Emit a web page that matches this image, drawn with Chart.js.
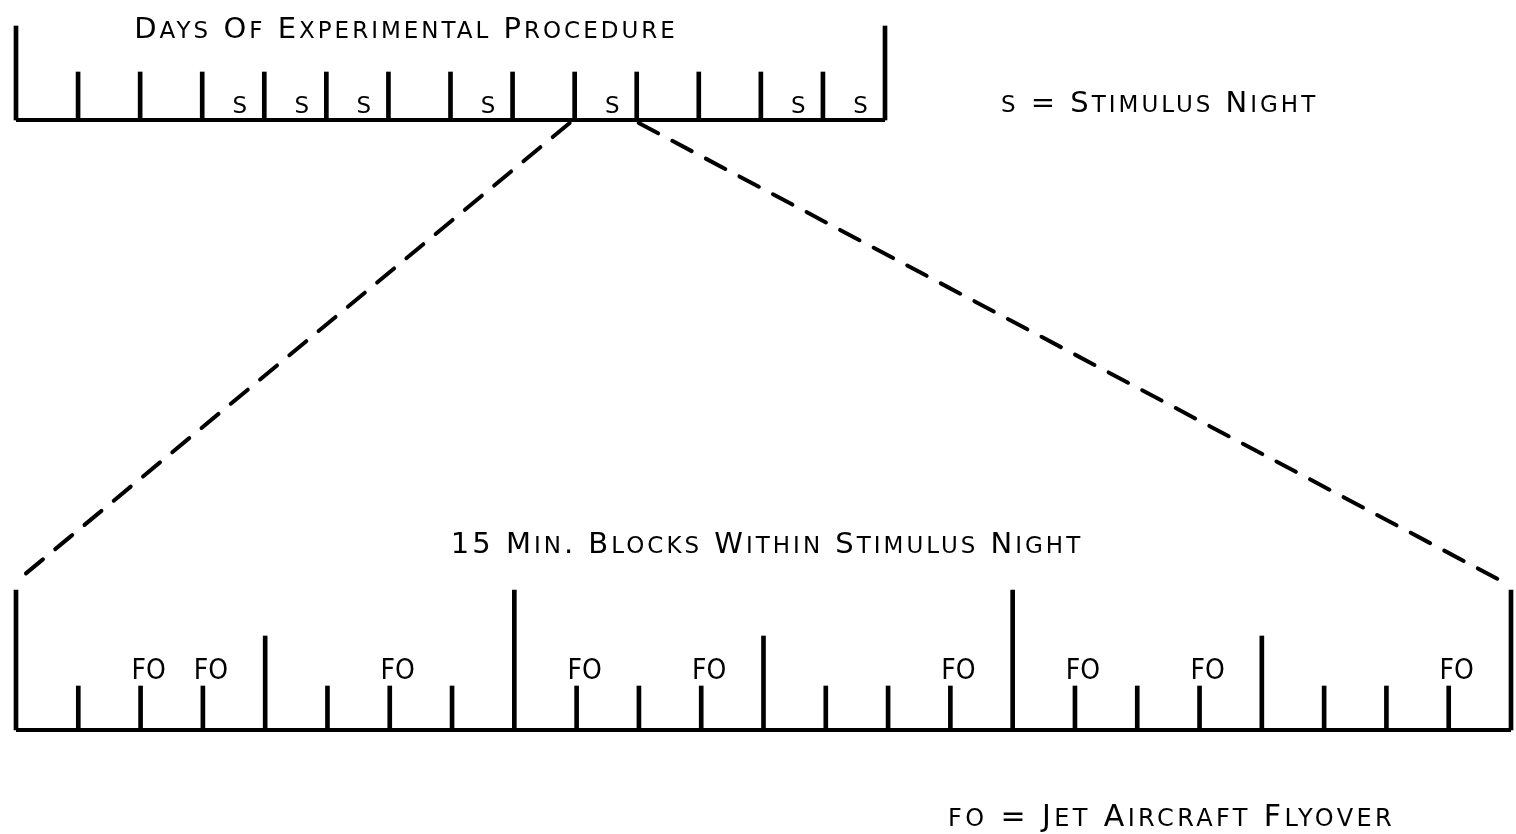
<!DOCTYPE html>
<html>
<head>
<meta charset="utf-8">
<script src="https://cdn.jsdelivr.net/npm/chart.js@4/dist/chart.umd.min.js"></script>
<style>
  html, body { margin: 0; padding: 0; background: #fff; }
  #wrap { width: 1516px; height: 834px; }
</style>
</head>
<body>
<div id="wrap"><canvas id="chart"></canvas></div>
<script>
// day boundaries of the experiment, and the nights with the stimulus
const days = [0, 1, 2, 3, 4, 5, 6, 7, 8, 9, 10, 11, 12, 13, 14];
const stimulusDays = [4, 5, 6, 8, 10, 13, 14];
// 15 minute block boundaries within one stimulus night, and the flyovers
const blocks = [0, 1, 2, 3, 4, 5, 6, 7, 8, 9, 10, 11, 12, 13, 14, 15, 16, 17, 18, 19, 20, 21, 22, 23, 24];
const flyoverBlocks = [2, 3, 6, 9, 11, 15, 17, 19, 23];
const zoomedDay = 10;

const titleTop = 'Days Of Experimental Procedure';
const legendTop = 's = Stimulus Night';
const titleBottom = '15 Min. Blocks Within Stimulus Night';
const legendBottom = 'fo = Jet Aircraft Flyover';

// layout (pixel rows, y scale is in page pixels)
const TOP_BASE = 120, TOP_END = 26, TOP_TICK = 72;
const BOT_BASE = 730, BOT_TALL = 590, BOT_MID = 636, BOT_SHORT = 686;
const INK = '#000';
const FONT = '"DejaVu Sans", sans-serif';

const dayTicks = days.map((d) => ({
  x: d,
  y: [TOP_BASE, (d === days[0] || d === days[days.length - 1]) ? TOP_END : TOP_TICK],
}));
const blockTicks = blocks.map((b) => ({
  x: b,
  y: [BOT_BASE, b % 8 === 0 ? BOT_TALL : (b % 4 === 0 ? BOT_MID : BOT_SHORT)],
}));

// hand lettered small caps: capitals big, lower case drawn as smaller capitals
function smallCaps(ctx, text, x, y, align, big, small, spacing) {
  const runs = [];
  for (const ch of text) {
    const low = ch !== ch.toUpperCase();
    const last = runs[runs.length - 1];
    if (last && last.low === low) last.s += ch.toUpperCase();
    else runs.push({ low, s: ch.toUpperCase() });
  }
  ctx.letterSpacing = spacing + 'px';
  let total = 0;
  runs.forEach((r) => {
    ctx.font = (r.low ? small : big) + 'px ' + FONT;
    r.w = ctx.measureText(r.s).width;
    total += r.w;
  });
  let cx = align === 'center' ? x - total / 2 : x;
  ctx.textAlign = 'left';
  runs.forEach((r) => {
    ctx.font = (r.low ? small : big) + 'px ' + FONT;
    ctx.fillText(r.s, cx, y);
    cx += r.w;
  });
}

const labelsPlugin = {
  id: 'labels',
  afterDatasetsDraw(chart) {
    const { ctx } = chart;
    const xd = chart.scales.xd;
    const xb = chart.scales.xb;
    ctx.save();

    // zoom connectors from the stimulus night to the block timeline
    ctx.strokeStyle = INK;
    ctx.lineWidth = 4;
    ctx.lineCap = 'round';
    ctx.setLineDash([22, 16]);
    ctx.beginPath();
    ctx.moveTo(xd.getPixelForValue(zoomedDay - 1) - 5, TOP_BASE + 3);
    ctx.lineTo(xb.getPixelForValue(blocks[0]) + 2, BOT_TALL - 10);
    ctx.stroke();
    ctx.beginPath();
    ctx.moveTo(xd.getPixelForValue(zoomedDay) + 2, TOP_BASE + 3);
    ctx.lineTo(xb.getPixelForValue(blocks[blocks.length - 1]) - 2, BOT_TALL - 5);
    ctx.stroke();
    ctx.setLineDash([]);

    ctx.fillStyle = INK;
    ctx.textBaseline = 'alphabetic';

    smallCaps(ctx, titleTop, 406, 38, 'center', 29, 23, 3);
    smallCaps(ctx, titleBottom, 767, 553, 'center', 29, 23, 3);
    smallCaps(ctx, legendTop, 1001, 112, 'left', 29, 23, 3);
    smallCaps(ctx, legendBottom, 948, 826, 'left', 30, 24, 3.4);

    ctx.letterSpacing = '1px';
    ctx.font = '23px ' + FONT;
    ctx.textAlign = 'center';
    stimulusDays.forEach((d) => {
      ctx.fillText('S', xd.getPixelForValue(d - 0.5) + 7, 113);
    });
    ctx.letterSpacing = '0px';
    ctx.font = '28px "DejaVu Sans Condensed", ' + FONT;
    flyoverBlocks.forEach((b) => {
      ctx.fillText('FO', xb.getPixelForValue(b) + 8, 679);
    });
    ctx.restore();
  },
};

// hidden axes: day 0 / block 0 at x=16, day 14 at x=885, block 24 at x=1511
const dayPx = (885 - 16) / 14;
const blockPx = (1511 - 16) / 24;

new Chart(document.getElementById('chart'), {
  type: 'bar',
  data: {
    datasets: [
      {
        type: 'line',
        xAxisID: 'xd',
        data: [{ x: days[0], y: TOP_BASE }, { x: days[days.length - 1], y: TOP_BASE }],
        borderColor: INK,
        borderWidth: 4,
        pointRadius: 0,
      },
      {
        type: 'line',
        xAxisID: 'xb',
        data: [{ x: blocks[0], y: BOT_BASE }, { x: blocks[blocks.length - 1], y: BOT_BASE }],
        borderColor: INK,
        borderWidth: 4,
        pointRadius: 0,
      },
      {
        xAxisID: 'xd',
        data: dayTicks,
        backgroundColor: INK,
        barThickness: 4,
        grouped: false,
        borderSkipped: false,
      },
      {
        xAxisID: 'xb',
        data: blockTicks,
        backgroundColor: INK,
        barThickness: 4,
        grouped: false,
        borderSkipped: false,
      },
    ],
  },
  plugins: [labelsPlugin],
  options: {
    responsive: true,
    maintainAspectRatio: false,
    animation: false,
    layout: { padding: 0 },
    plugins: { legend: false, tooltip: false, title: false },
    scales: {
      xd: {
        type: 'linear',
        display: false,
        offset: false,
        min: -16 / dayPx,
        max: 14 + (1516 - 885) / dayPx,
      },
      xb: {
        type: 'linear',
        display: false,
        offset: false,
        min: -16 / blockPx,
        max: 24 + (1516 - 1511) / blockPx,
      },
      y: {
        type: 'linear',
        display: false,
        reverse: true,
        min: 0,
        max: 834,
      },
    },
  },
});
</script>
</body>
</html>
